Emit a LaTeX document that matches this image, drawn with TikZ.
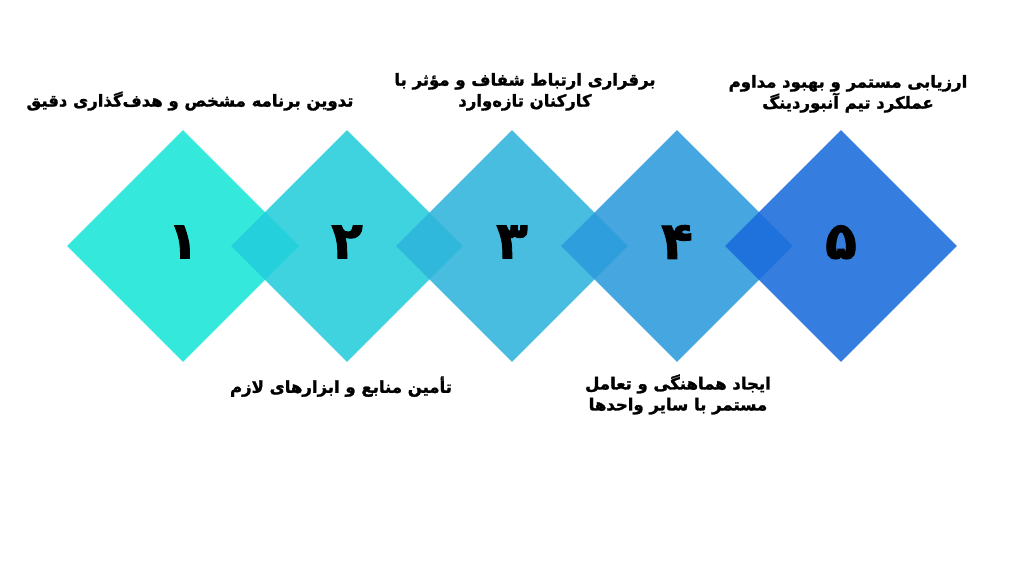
\documentclass[tikz,border=0pt]{standalone}
\usepackage{fontspec}
\newfontfamily\arabicfont[Script=Arabic, FakeBold=1.6]{DejaVu Sans Bold}
\TeXXeTstate=1
\usetikzlibrary{shapes.geometric, positioning}

\definecolor{stepA}{RGB}{25,229,215}
\definecolor{stepB}{RGB}{35,205,219}
\definecolor{stepC}{RGB}{47,180,220}
\definecolor{stepD}{RGB}{44,154,220}
\definecolor{stepE}{RGB}{25,108,219}

\newcommand{\fa}[1]{\beginR #1\endR}
\newcommand{\stepnum}[1]{\raisebox{8pt}{\fa{#1}}}

\begin{document}
\begin{tikzpicture}[x=1pt, y=-1pt,
    tile/.style={diamond, minimum width=232pt, minimum height=232pt, inner sep=0pt,
        fill opacity=0.88, text opacity=1, font=\arabicfont\fontsize{52}{54}\selectfont},
    lbl/.style={align=center, inner sep=1pt, font=\arabicfont\fontsize{16.5}{21}\selectfont}]
\useasboundingbox (0,0) rectangle (1024,576);

% the five steps
\node[tile, fill=stepA] (d1) at (183,246) {\stepnum{۱}};
\node[tile, fill=stepB] (d2) at (347,246) {\stepnum{۲}};
\node[tile, fill=stepC] (d3) at (512,246) {\stepnum{۳}};
\node[tile, fill=stepD] (d4) at (677,246) {\stepnum{۴}};
\node[tile, fill=stepE] (d5) at (841,246) {\stepnum{۵}};

% labels
\node[lbl, above=18pt of d1, xshift=7pt] (t1) {\fa{تدوین برنامه مشخص و هدف‌گذاری دقیق}};
\node[lbl, below=13pt of d2, xshift=-6pt] (t2) {\fa{تأمین منابع و ابزارهای لازم}};
\node[lbl, above=18pt of d3, xshift=13pt] (t3) {\fa{برقراری ارتباط شفاف و مؤثر با}\\\fa{کارکنان تازه‌وارد}};
\node[lbl, below=11pt of d4, xshift=1pt] (t4) {\fa{ایجاد هماهنگی و تعامل}\\\fa{مستمر با سایر واحدها}};
\node[lbl, above=16pt of d5, xshift=7pt] (t5) {\fa{ارزیابی مستمر و بهبود مداوم}\\\fa{عملکرد تیم آنبوردینگ}};

\end{tikzpicture}
\end{document}
